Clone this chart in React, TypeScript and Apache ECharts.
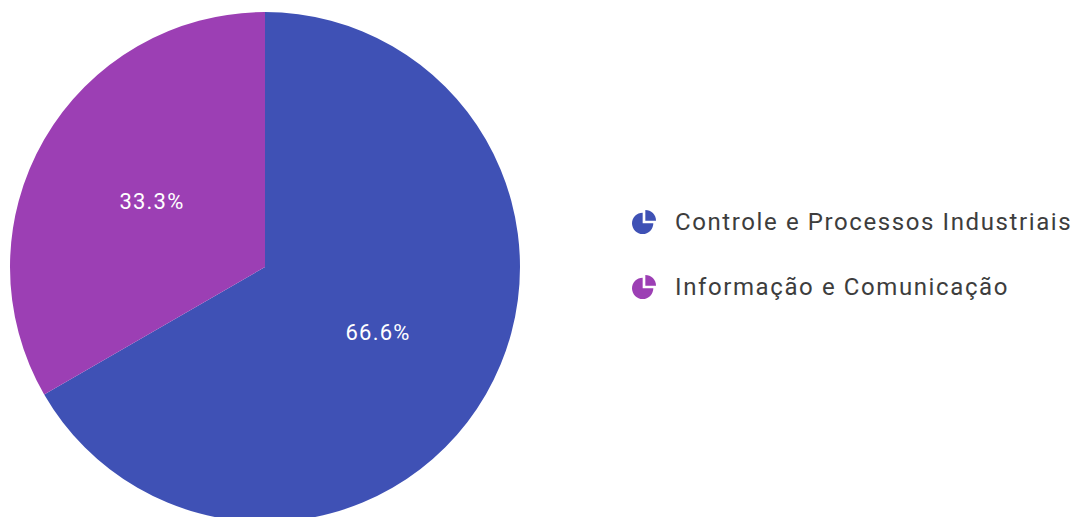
import React, { useEffect, useRef } from "react";
import * as echarts from "echarts";

const categories = ["Controle e Processos Industriais", "Informação e Comunicação"];
const values = [66.6, 33.3];
const colors = ["#3F51B5", "#9C3FB4"];

const pieIcon =
  "path://M10,14 L10,4 A10,10 0 1,0 20,14 Z M12.5,11.5 L12.5,1.5 A10,10 0 0,1 22.5,11.5 Z";

export default function App() {
  const ref = useRef<HTMLDivElement>(null);
  useEffect(() => {
    document.body.style.margin = "0";
    const chart = echarts.init(ref.current!, null, { renderer: "svg" });
    const applySpacing = () => {
      const texts = ref.current?.querySelectorAll("text") || [];
      texts.forEach((t: any) => {
        const txt = t.textContent || "";
        if (txt.indexOf("%") >= 0) t.style.letterSpacing = "1.2px";
        else t.style.letterSpacing = "1.6px";
      });
    };
    chart.on("finished", applySpacing);
    chart.setOption({
      animation: false,
      color: colors,
      legend: {
        orient: "vertical",
        left: 627,
        top: 205,
        itemWidth: 24,
        itemHeight: 24,
        itemGap: 41,
        icon: pieIcon,
        textStyle: {
          fontFamily: "Roboto",
          fontSize: 24,
          color: "#3d3d3d",
          padding: [0, 0, 0, 14],
        },
        data: categories,
      },
      series: [
        {
          type: "pie",
          center: [265, 267],
          radius: [0, 255],
          startAngle: 90,
          clockwise: true,
          label: {
            position: "inside",
            color: "#fff",
            fontFamily: "Roboto",
            fontSize: 22,
            formatter: (p: any) => p.value.toFixed(1) + "%",
          },
          labelLine: { show: false },
          emphasis: { disabled: true },
          itemStyle: { borderWidth: 0 },
          data: categories.map((c, i) => ({ name: c, value: values[i] })),
        },
      ],
    });
    applySpacing();
    return () => chart.dispose();
  }, []);
  return <div ref={ref} style={{ width: 1081, height: 517 }} />;
}
